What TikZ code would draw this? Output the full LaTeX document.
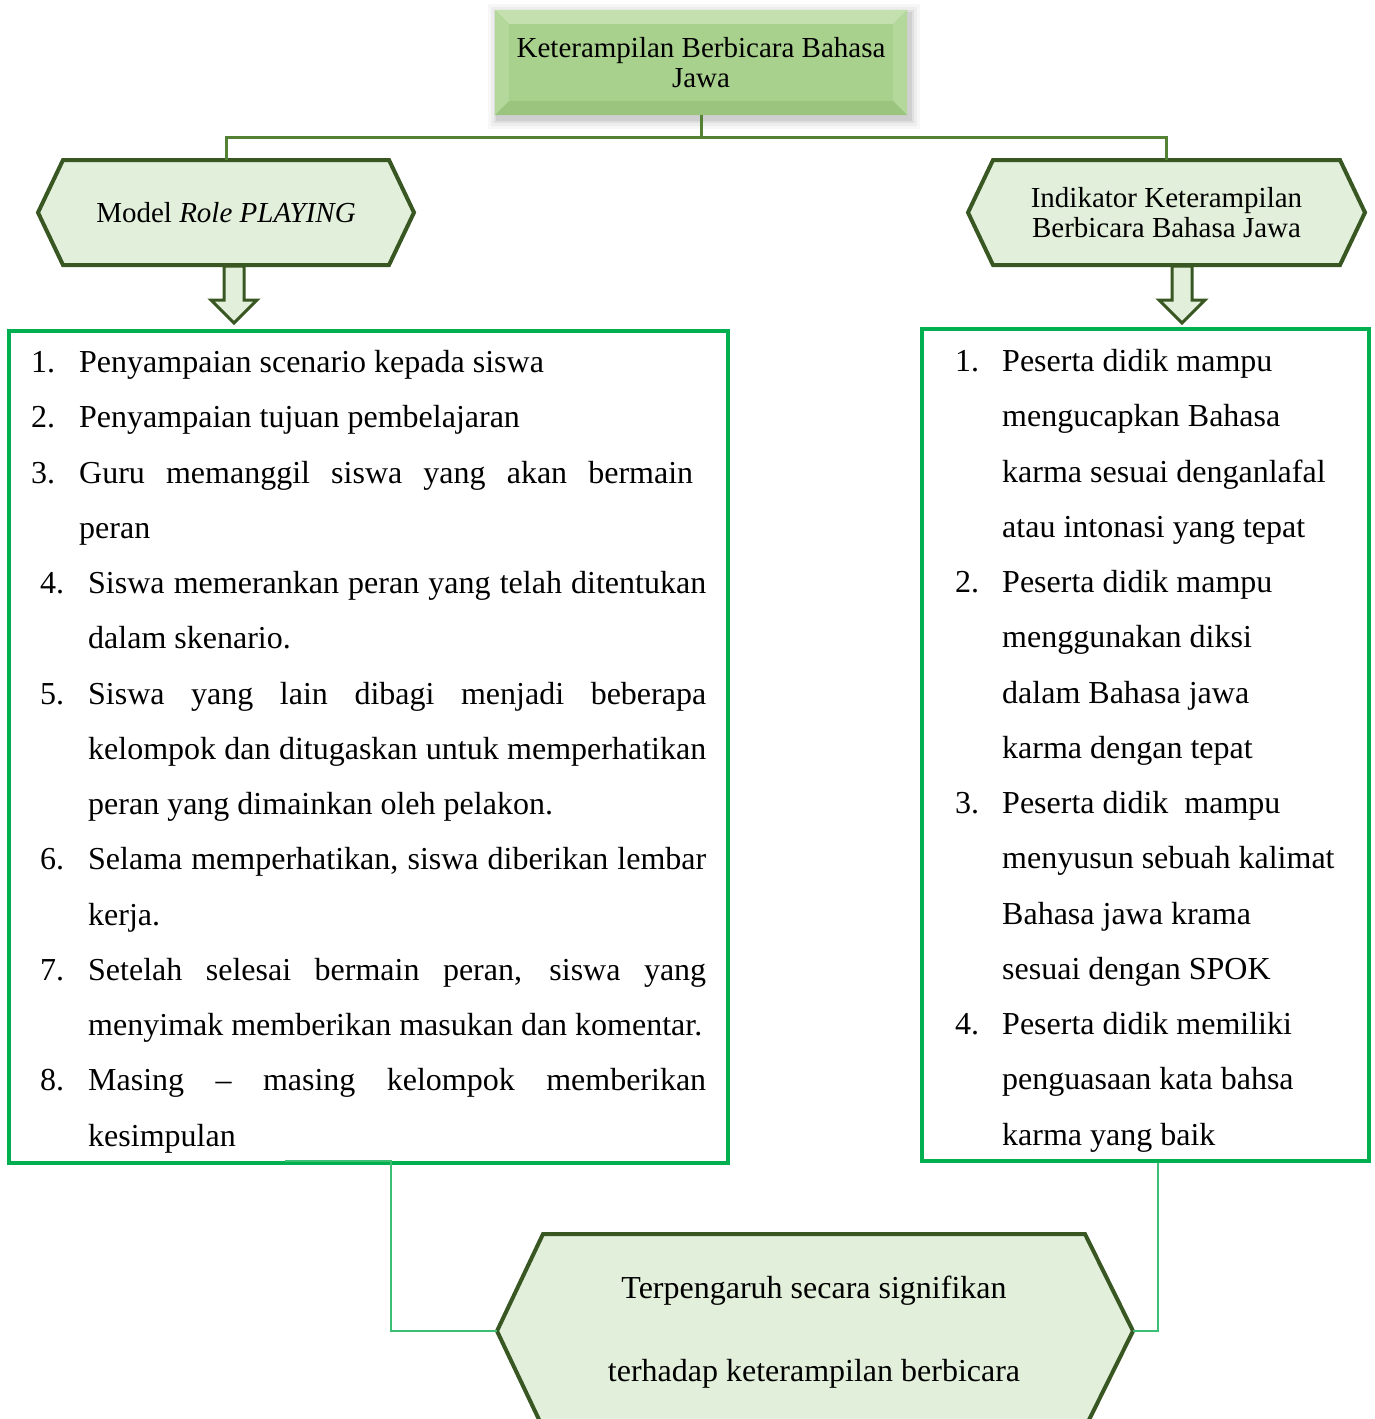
\documentclass[tikz,border=0pt]{standalone}
\usepackage{fontspec}
\setmainfont{Liberation Serif}
\definecolor{hexfill}{HTML}{E2EFDA}
\definecolor{hexdraw}{HTML}{385723}
\definecolor{linkc}{HTML}{548235}
\definecolor{boxc}{HTML}{00B050}
\definecolor{thinc}{HTML}{3CBF74}
\definecolor{topc}{HTML}{A9D18E}
\definecolor{toplight}{HTML}{C3E0AE}
\definecolor{topmid}{HTML}{B4D89B}
\definecolor{topdark}{HTML}{9BC57F}
\tikzset{
  hexshape/.style={fill=hexfill, draw=hexdraw, line width=4pt, line join=miter},
  lbl/.style={inner sep=0pt, align=center},
  link/.style={draw=linkc, line width=3pt},
  thinlink/.style={draw=thinc, line width=2pt},
  listbox/.style={draw=boxc, line width=4pt, inner sep=0pt},
  blockarrow/.style={fill=hexfill, draw=hexdraw, line width=3pt, line join=miter},
  li/.style={anchor=base west, inner sep=0pt, font=\fontsize{32}{38}\selectfont},
  mid/.style={anchor=base, inner sep=0pt, font=\fontsize{32}{38}\selectfont},
}
\begin{document}
\begin{tikzpicture}[x=1pt,y=-1pt]
\useasboundingbox (0,0) rectangle (1375,1419);
\clip (0,0) rectangle (1375,1419);

% ---------- top box ----------
\foreach \d/\o in {10/0.03,7/0.04,4/0.06,2/0.07}{
  \fill[black,opacity=\o] (495-\d+3,10-\d+4) rectangle (907+\d+3,115+\d+4);
}
\node[lbl, minimum width=412pt, minimum height=105pt] (top) at (701,62.5) {};
\fill[topc] (top.north west) rectangle (top.south east);
\fill[toplight] (top.north west) -- (top.north east) -- ([shift={(-14pt,-14pt)}]top.north east) -- ([shift={(14pt,-14pt)}]top.north west) -- cycle;
\fill[topmid] (top.north west) -- ([shift={(14pt,-14pt)}]top.north west) -- ([shift={(14pt,14pt)}]top.south west) -- (top.south west) -- cycle;
\fill[topmid] (top.north east) -- ([shift={(-14pt,-14pt)}]top.north east) -- ([shift={(-14pt,14pt)}]top.south east) -- (top.south east) -- cycle;
\fill[topdark] (top.south west) -- (top.south east) -- ([shift={(-14pt,14pt)}]top.south east) -- ([shift={(14pt,14pt)}]top.south west) -- cycle;
\node[lbl, font=\fontsize{29}{30}\selectfont] at (top.center) {Keterampilan Berbicara Bahasa\\Jawa};

% ---------- hexagons ----------
\draw[hexshape] (38,212.5) -- (63,160) -- (389,160) -- (414,212.5) -- (389,265) -- (63,265) -- cycle;
\node[lbl, minimum width=376pt, minimum height=105pt, font=\fontsize{29}{30}\selectfont] (model) at (226,212.5) {Model \textit{Role PLAYING}};

\draw[hexshape] (968,212.5) -- (993,160) -- (1340,160) -- (1365,212.5) -- (1340,265) -- (993,265) -- cycle;
\node[lbl, minimum width=397pt, minimum height=105pt, font=\fontsize{29}{30}\selectfont] (indik) at (1166.5,212.5) {Indikator Keterampilan\\Berbicara Bahasa Jawa};

% ---------- top connectors ----------
\coordinate (junc) at (701,137);
\draw[link] (top.south) -- (junc) -| (model.north);
\draw[link] (junc) -| (indik.north);

% ---------- block arrows ----------
\draw[blockarrow] (224,266) -- (244,266) -- (244,300) -- (257,300) -- (234,323) -- (211,300) -- (224,300) -- cycle;
\draw[blockarrow] (1172,266) -- (1192,266) -- (1192,300) -- (1205,300) -- (1182,323) -- (1159,300) -- (1172,300) -- cycle;

% ---------- list boxes ----------
\node[listbox, minimum width=719pt, minimum height=832pt] (steps) at (368.5,747) {};
\node[listbox, minimum width=447pt, minimum height=832pt] (inds) at (1145.5,745) {};

% left list
\def\bl{372.5}\def\st{55.25}
\node[li] at (31,{\bl+0*\st}) {1.};
\node[li] at (79,{\bl+0*\st}) {Penyampaian scenario kepada siswa};
\node[li] at (31,{\bl+1*\st}) {2.};
\node[li] at (79,{\bl+1*\st}) {Penyampaian tujuan pembelajaran};
\node[li] at (31,{\bl+2*\st}) {3.};
\node[li] at (79,{\bl+2*\st}) {\makebox[614pt][s]{Guru memanggil siswa yang akan bermain}};
\node[li] at (79,{\bl+3*\st}) {peran};
\node[li] at (40,{\bl+4*\st}) {4.};
\node[li] at (88,{\bl+4*\st}) {\makebox[618pt][s]{Siswa memerankan peran yang telah ditentukan}};
\node[li] at (88,{\bl+5*\st}) {dalam skenario.};
\node[li] at (40,{\bl+6*\st}) {5.};
\node[li] at (88,{\bl+6*\st}) {\makebox[618pt][s]{Siswa yang lain dibagi menjadi beberapa}};
\node[li] at (88,{\bl+7*\st}) {\makebox[618pt][s]{kelompok dan ditugaskan untuk memperhatikan}};
\node[li] at (88,{\bl+8*\st}) {peran yang dimainkan oleh pelakon.};
\node[li] at (40,{\bl+9*\st}) {6.};
\node[li] at (88,{\bl+9*\st}) {\makebox[618pt][s]{Selama memperhatikan, siswa diberikan lembar}};
\node[li] at (88,{\bl+10*\st}) {kerja.};
\node[li] at (40,{\bl+11*\st}) {7.};
\node[li] at (88,{\bl+11*\st}) {\makebox[618pt][s]{Setelah selesai bermain peran, siswa yang}};
\node[li] at (88,{\bl+12*\st}) {menyimak memberikan masukan dan komentar.};
\node[li] at (40,{\bl+13*\st}) {8.};
\node[li] at (88,{\bl+13*\st}) {\makebox[618pt][s]{Masing – masing kelompok memberikan}};
\node[li] at (88,{\bl+14*\st}) {kesimpulan};

% right list
\def\br{371.5}
\node[li] at (955,{\br+0*\st}) {1.};
\node[li] at (1002,{\br+0*\st}) {Peserta didik mampu};
\node[li] at (1002,{\br+1*\st}) {mengucapkan Bahasa};
\node[li] at (1002,{\br+2*\st}) {karma sesuai denganlafal};
\node[li] at (1002,{\br+3*\st}) {atau intonasi yang tepat};
\node[li] at (955,{\br+4*\st}) {2.};
\node[li] at (1002,{\br+4*\st}) {Peserta didik mampu};
\node[li] at (1002,{\br+5*\st}) {menggunakan diksi};
\node[li] at (1002,{\br+6*\st}) {dalam Bahasa jawa};
\node[li] at (1002,{\br+7*\st}) {karma dengan tepat};
\node[li] at (955,{\br+8*\st}) {3.};
\node[li] at (1002,{\br+8*\st}) {Peserta didik\ \ mampu};
\node[li] at (1002,{\br+9*\st}) {menyusun sebuah kalimat};
\node[li] at (1002,{\br+10*\st}) {Bahasa jawa krama};
\node[li] at (1002,{\br+11*\st}) {sesuai dengan SPOK};
\node[li] at (955,{\br+12*\st}) {4.};
\node[li] at (1002,{\br+12*\st}) {Peserta didik memiliki};
\node[li] at (1002,{\br+13*\st}) {penguasaan kata bahsa};
\node[li] at (1002,{\br+14*\st}) {karma yang baik};

% ---------- bottom hexagon ----------
\draw[hexshape] (497,1331) -- (543,1234) -- (1085,1234) -- (1133,1331) -- (1085,1428) -- (543,1428) -- cycle;
\node[lbl, minimum width=636pt, minimum height=194pt] (result) at (815,1331) {};
\node[mid] at (814,1298) {Terpengaruh secara signifikan};
\node[mid] at (814,1381) {terhadap keterampilan berbicara};

% ---------- bottom connectors ----------
\coordinate (lsa) at (285,1161);
\coordinate (ls) at (391,1161);
\coordinate (rs) at (1158,1163);
\draw[thinlink] (lsa) -- (ls) |- (result.west);
\draw[thinlink] (rs) |- (result.east);
\end{tikzpicture}
\end{document}
